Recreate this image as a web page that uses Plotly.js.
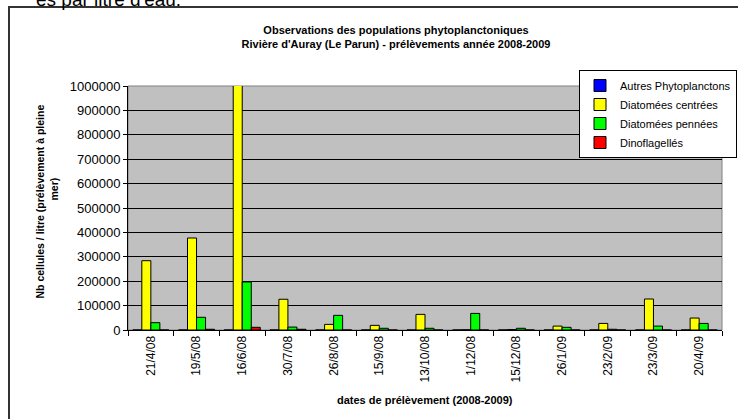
<!DOCTYPE html>
<html>
<head>
<meta charset="utf-8">
<script src="https://cdn.plot.ly/plotly-3.0.1.min.js"></script>
<style>
html,body{margin:0;padding:0;background:#fff;overflow:hidden;}
#chart{width:738px;height:419px;}
</style>
</head>
<body>
<div id="chart"></div>
<script>
var dates = ["21/4/08","19/5/08","16/6/08","30/7/08","26/8/08","15/9/08","13/10/08","1/12/08","15/12/08","26/1/09","23/2/09","23/3/09","20/4/09"];
var autres   = [0,0,0,0,0,0,0,0,0,0,0,0,0];
var centrees = [284000,377000,1010000,126000,23000,19000,64000,1000,2000,16000,27000,127000,49000];
var pennees  = [30000,52000,197000,12000,60000,7000,7000,68000,7000,11000,3000,16000,27000];
var dino     = [0,3000,11000,3000,0,0,0,0,0,0,0,0,0];
var seriesNames = ["Autres Phytoplanctons","Diatomées centrées","Diatomées pennées","Dinoflagellés"];
var yTicks = [0,100000,200000,300000,400000,500000,600000,700000,800000,900000,1000000];

var colors = ["#0000FF","#FFFF00","#00FF00","#FF0000"];
var values = [autres, centrees, pennees, dino];
var font = "Arial, 'Liberation Sans', sans-serif";

var traces = values.map(function(v,i){
  return {
    type:"bar", x:dates, y:v, name:seriesNames[i],
    marker:{color:colors[i], line:{color:"#000", width:1}},
    hoverinfo:"x+y+name"
  };
});

var L=128, R=722, T=86, B=330;
function px(x){return (x-L)/(R-L);}
function py(y){return (B-y)/(B-T);}

var layout = {
  width:738, height:419,
  margin:{l:L, r:738-R, t:T, b:419-B, pad:0, autoexpand:false},
  paper_bgcolor:"#fff",
  plot_bgcolor:"#C0C0C0",
  barmode:"group", bargap:0.21, bargroupgap:0,
  font:{family:font, size:12, color:"#000"},
  title:{
    text:"<b>Observations des populations phytoplanctoniques</b><br><b>Rivière d'Auray (Le Parun) - prélèvements année 2008-2009</b>",
    font:{family:font, size:11, color:"#000"},
    x:px(396), xref:"paper", xanchor:"center",
    y:1-34/419, yref:"container", yanchor:"middle"
  },
  xaxis:{
    type:"category", tickangle:-90, tickson:"boundaries",
    ticks:"outside", ticklen:5, tickcolor:"#000", tickwidth:1,
    showline:true, linecolor:"#000", linewidth:1,
    showgrid:false, zeroline:false,
    tickfont:{family:font, size:12, color:"#000"},
    fixedrange:true
  },
  yaxis:{
    range:[0,1000000], tickvals:yTicks, tickformat:"d",
    ticks:"outside", ticklen:4, tickcolor:"#000",
    showline:true, linecolor:"#000", linewidth:1,
    showgrid:true, gridcolor:"#000", gridwidth:1, zeroline:false,
    tickfont:{family:font, size:13, color:"#000"},
    fixedrange:true
  },
  showlegend:true,
  legend:{
    x:px(737), xanchor:"right", y:py(70), yanchor:"top",
    bgcolor:"#fff", bordercolor:"#000", borderwidth:1,
    font:{family:font, size:11, color:"#000"},
    tracegroupgap:0, traceorder:"normal", itemwidth:30
  },
  shapes:[
    {type:"rect", xref:"paper", yref:"paper", x0:px(9), x1:px(760), y0:py(7), y1:py(440),
     line:{color:"#333", width:2}, fillcolor:"rgba(0,0,0,0)", layer:"below"},
    {type:"rect", xref:"paper", yref:"paper", x0:0, x1:1, y0:0, y1:1,
     line:{color:"#808080", width:1}, fillcolor:"rgba(0,0,0,0)", layer:"below"}
  ],
  annotations:[
    {text:"es par litre d'eau.", xref:"paper", yref:"paper", x:px(183), y:py(-1),
     xanchor:"right", yanchor:"middle", showarrow:false,
     font:{family:font, size:19, color:"#000"}},
    {text:"<b>Nb cellules / litre (prélèvement à pleine</b>", xref:"paper", yref:"paper",
     x:px(39.5), y:py(202), xanchor:"center", yanchor:"middle", textangle:-90, showarrow:false,
     font:{family:font, size:10.5, color:"#000"}},
    {text:"<b>mer)</b>", xref:"paper", yref:"paper",
     x:px(53.5), y:py(189), xanchor:"center", yanchor:"middle", textangle:-90, showarrow:false,
     font:{family:font, size:10.5, color:"#000"}},
    {text:"<b>dates de prélèvement (2008-2009)</b>", xref:"paper", yref:"paper",
     x:0.5, y:py(400), xanchor:"center", yanchor:"middle", showarrow:false,
     font:{family:font, size:11, color:"#000"}}
  ]
};

Plotly.newPlot("chart", traces, layout, {displayModeBar:false, staticPlot:true});
</script>
</body>
</html>
